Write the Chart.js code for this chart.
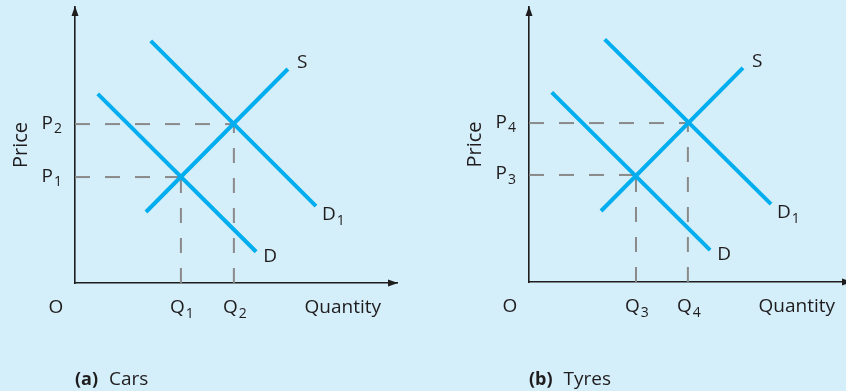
<!DOCTYPE html>
<html>
<head>
<meta charset="utf-8">
<script src="https://cdn.jsdelivr.net/npm/chart.js@4.4.1/dist/chart.umd.min.js"></script>
<style>
  html, body { margin: 0; padding: 0; width: 846px; height: 391px; overflow: hidden; background: #d4eefa; }
  .panel { position: absolute; top: 0; }
  #panelA { left: 0; }
  #panelB { left: 454px; }
</style>
</head>
<body>
<div class="panel" id="panelA"><canvas id="carsChart" width="400" height="391"></canvas></div>
<div class="panel" id="panelB"><canvas id="tyresChart" width="400" height="391"></canvas></div>
<script>
// (a) Cars - values in quantity / price units
const carsSupply = [{x: 1.34, y: 1.34}, {x: 4.02, y: 4.04}];
const carsDemand = [{x: 0.43, y: 3.57}, {x: 3.42, y: 0.59}];
const carsDemandShift = [{x: 1.43, y: 4.57}, {x: 4.55, y: 1.45}];
const carsEqQuantity = [2, 3];
const carsEqPrice = [2, 3];
const carsQuantityLabels = ['Q1', 'Q2'];
const carsPriceLabels = ['P1', 'P2'];

// (b) Tyres
const tyresSupply = [{x: 1.36, y: 1.34}, {x: 4.04, y: 4.04}];
const tyresDemand = [{x: 0.43, y: 3.58}, {x: 3.42, y: 0.6}];
const tyresDemandShift = [{x: 1.43, y: 4.58}, {x: 4.57, y: 1.47}];
const tyresEqQuantity = [2.02, 3];
const tyresEqPrice = [2.02, 3];
const tyresQuantityLabels = ['Q3', 'Q4'];
const tyresPriceLabels = ['P3', 'P4'];

const curveNames = ['S', 'D', 'D1'];
const axisNames = ['Quantity', 'Price', 'O'];

const lineBlue = '#00aeef';
const dashGrey = '#8a8a8a';
const inkColor = '#1f1c1d';
const fontFamily = '"Open Sans", "Noto Sans", sans-serif';

// draws "P1" as P with a subscript 1
function drawSubText(ctx, text, x, y, align, size) {
    const main = text.slice(0, 1);
    const sub = text.slice(1);
    const subSize = Math.round(size * 0.74);
    ctx.font = size + 'px ' + fontFamily;
    const mw = ctx.measureText(main).width;
    ctx.font = subSize + 'px ' + fontFamily;
    const sw = sub ? ctx.measureText(sub).width + 1 : 0;
    let start = x;
    if (align === 'center') start = x - (mw + sw) / 2;
    if (align === 'right') start = x - (mw + sw);
    ctx.textAlign = 'left';
    ctx.textBaseline = 'alphabetic';
    ctx.font = size + 'px ' + fontFamily;
    ctx.fillText(main, start, y);
    if (sub) {
        ctx.font = subSize + 'px ' + fontFamily;
        ctx.fillText(sub, start + mw + 1, y + 4.5);
    }
}

function makeSketchPlugin(p) {
    return {
        id: 'sketch',
        afterDraw(chart) {
            const {ctx, chartArea: a, scales: {x, y}} = chart;
            ctx.save();
            ctx.fillStyle = inkColor;

            // arrow heads on both axes
            ctx.beginPath();
            ctx.moveTo(a.right + 1, a.bottom);
            ctx.lineTo(a.right - 9, a.bottom - 3.5);
            ctx.lineTo(a.right - 9, a.bottom + 3.5);
            ctx.closePath();
            ctx.fill();
            ctx.beginPath();
            ctx.moveTo(a.left, a.top - 1);
            ctx.lineTo(a.left - 3.5, a.top + 9);
            ctx.lineTo(a.left + 3.5, a.top + 9);
            ctx.closePath();
            ctx.fill();

            const size = 19;
            // tick labels at the equilibrium values
            p.eqPrice.forEach((v, i) => {
                drawSubText(ctx, p.priceLabels[i], a.left - 13, y.getPixelForValue(v) + 4.5, 'right', size);
            });
            p.eqQuantity.forEach((v, i) => {
                drawSubText(ctx, p.quantityLabels[i], x.getPixelForValue(v) + 1, a.bottom + 30, 'center', size);
            });

            ctx.font = size + 'px ' + fontFamily;
            ctx.textBaseline = 'alphabetic';
            ctx.textAlign = 'center';
            ctx.fillText(axisNames[2], a.left - 19, a.bottom + 30);
            ctx.textAlign = 'right';
            ctx.fillText(axisNames[0], a.right - 16, a.bottom + 30);

            ctx.save();
            ctx.font = '20px ' + fontFamily;
            ctx.translate(a.left - 48, (a.top + a.bottom) / 2);
            ctx.rotate(-Math.PI / 2);
            ctx.textAlign = 'center';
            ctx.fillText(axisNames[1], 0, 0);
            ctx.restore();

            // curve names next to the line ends
            const sEnd = p.supply[p.supply.length - 1];
            const dEnd = p.demand[p.demand.length - 1];
            const d1End = p.demandShift[p.demandShift.length - 1];
            drawSubText(ctx, curveNames[0], x.getPixelForValue(sEnd.x) + 9, y.getPixelForValue(sEnd.y) - 1, 'left', size);
            drawSubText(ctx, curveNames[1], x.getPixelForValue(dEnd.x) + 7, y.getPixelForValue(dEnd.y) + 10, 'left', size);
            drawSubText(ctx, curveNames[2], x.getPixelForValue(d1End.x) + 6, y.getPixelForValue(d1End.y) + 14, 'left', size);

            // panel caption
            ctx.textAlign = 'left';
            ctx.font = 'bold 18px ' + fontFamily;
            ctx.fillText(p.tag, a.left, 385);
            const tw = ctx.measureText(p.tag).width;
            ctx.font = '19px ' + fontFamily;
            ctx.fillText(p.caption, a.left + tw + 11, 385);
            ctx.restore();
        }
    };
}

function curveSet(points) {
    return {
        data: points, borderColor: lineBlue, borderWidth: 4, borderCapStyle: 'butt',
        pointRadius: 0, fill: false, tension: 0, order: 1
    };
}

function guideSet(points) {
    return {
        data: points, borderColor: dashGrey, borderWidth: 2, borderDash: [15, 15],
        borderCapStyle: 'butt', pointRadius: 0, fill: false, tension: 0, order: 2
    };
}

function buildPanel(canvasId, p) {
    const guides = [];
    p.eqQuantity.forEach((q, i) => {
        const pr = p.eqPrice[i];
        guides.push(guideSet([{x: 0, y: pr}, {x: q, y: pr}]));
        guides.push(guideSet([{x: q, y: 0}, {x: q, y: pr}]));
    });
    return new Chart(document.getElementById(canvasId), {
        type: 'line',
        data: {
            datasets: [curveSet(p.supply), curveSet(p.demand), curveSet(p.demandShift)].concat(guides)
        },
        options: {
            responsive: false,
            animation: false,
            events: [],
            layout: {padding: {left: 75, right: 3, top: 7, bottom: p.bottomPad}},
            plugins: {legend: {display: false}, tooltip: {enabled: false}},
            scales: {
                x: {
                    type: 'linear', min: 0, max: 6.08,
                    ticks: {display: false},
                    grid: {display: false, drawTicks: false},
                    border: {display: true, color: inkColor, width: 1.6}
                },
                y: {
                    type: 'linear', min: 0, max: p.yMax,
                    ticks: {display: false},
                    grid: {display: false, drawTicks: false},
                    border: {display: true, color: inkColor, width: 1.6}
                }
            }
        },
        plugins: [makeSketchPlugin(p)]
    });
}

buildPanel('carsChart', {
    supply: carsSupply, demand: carsDemand, demandShift: carsDemandShift,
    eqQuantity: carsEqQuantity, eqPrice: carsEqPrice,
    quantityLabels: carsQuantityLabels, priceLabels: carsPriceLabels,
    tag: '(a)', caption: 'Cars', bottomPad: 108, yMax: 5.21
});
buildPanel('tyresChart', {
    supply: tyresSupply, demand: tyresDemand, demandShift: tyresDemandShift,
    eqQuantity: tyresEqQuantity, eqPrice: tyresEqPrice,
    quantityLabels: tyresQuantityLabels, priceLabels: tyresPriceLabels,
    tag: '(b)', caption: 'Tyres', bottomPad: 109, yMax: 5.19
});
</script>
</body>
</html>
